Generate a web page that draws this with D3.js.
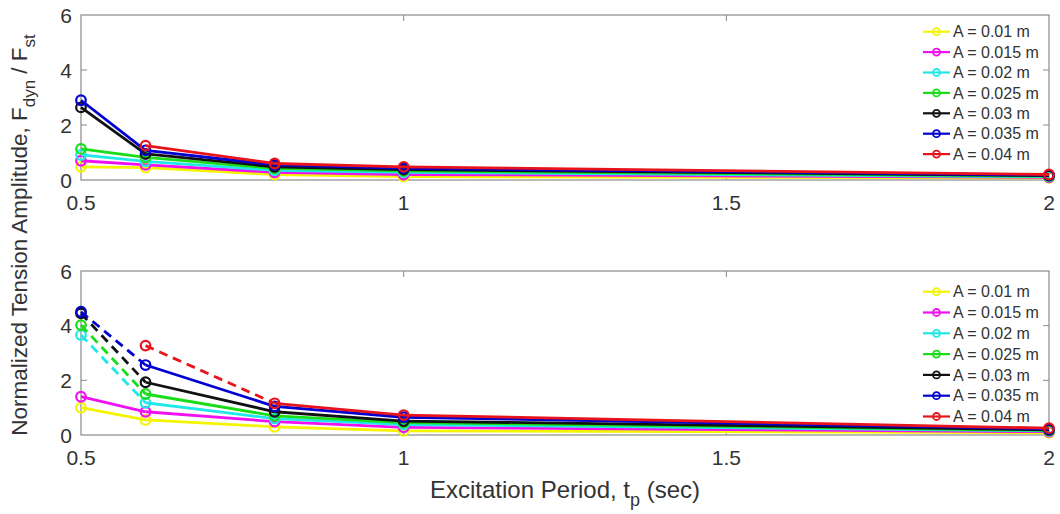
<!DOCTYPE html>
<html lang="en">
<head>
<meta charset="UTF-8">
<title>Normalized tension amplitude</title>
<style>
    body { margin: 0; background: #fff; }
    svg { display: block; font-family: "Liberation Sans", Arial, sans-serif; }
</style>
</head>
<body>
<script src="https://cdn.jsdelivr.net/npm/d3@7/dist/d3.min.js"></script>
<script>
    // periods on the x axis (sec)
    const periods = [0.5, 0.6, 0.8, 1, 2]
    const amplitudes = ['A = 0.01 m', 'A = 0.015 m', 'A = 0.02 m', 'A = 0.025 m', 'A = 0.03 m', 'A = 0.035 m', 'A = 0.04 m']
    const colors = ['#f4f400', '#f010f0', '#20e8e8', '#18dd18', '#111111', '#0000d0', '#e8141c']

    // top panel, null = no point
    const topValues = [
        [0.48, 0.45, 0.20, 0.12, 0.08],
        [0.70, 0.55, 0.28, 0.20, 0.10],
        [0.91, 0.68, 0.35, 0.28, 0.12],
        [1.13, 0.82, 0.42, 0.33, 0.14],
        [2.64, 0.95, 0.48, 0.38, 0.16],
        [2.90, 1.08, 0.55, 0.42, 0.18],
        [null, 1.25, 0.60, 0.48, 0.20]
    ]

    // bottom panel
    const bottomValues = [
        [1.00, 0.55, 0.30, 0.15, 0.08],
        [1.40, 0.85, 0.49, 0.28, 0.12],
        [3.66, 1.18, 0.60, 0.38, 0.15],
        [4.02, 1.50, 0.70, 0.45, 0.17],
        [4.45, 1.93, 0.85, 0.51, 0.19],
        [4.51, 2.56, 1.05, 0.65, 0.22],
        [null, 3.27, 1.16, 0.73, 0.25]
    ]
    // index of the segment that is dashed in the bottom panel (-1 = none)
    const bottomDashedSeg = [-1, -1, 0, 0, 0, 0, 1]

    const xTicks = [0.5, 1, 1.5, 2]
    const yTicks = [0, 2, 4, 6]

    const width = 1060
    const height = 514
    const left = 81
    const right = 1049
    const axisColor = '#8a8a8a'
    const textColor = '#333'

    const svg = d3.select('body').append('svg')
        .attr('width', width)
        .attr('height', height)

    const x = d3.scaleLinear().domain([0.5, 2]).range([left, right])

    drawPanel(15, 180, topValues, amplitudes.map(() => -1), 16.7, 20.4)
    drawPanel(271, 435, bottomValues, bottomDashedSeg, 20.7, 20.8)
    drawLabels()

    function drawPanel(top, bottom, values, dashedSeg, legTop, rowH) {
        const y = d3.scaleLinear().domain([0, 6]).range([bottom, top])
        const g = svg.append('g')

        // box
        g.append('rect')
            .attr('x', left).attr('y', top)
            .attr('width', right - left).attr('height', bottom - top)
            .attr('fill', 'none')
            .attr('stroke', axisColor)
            .attr('stroke-width', 1.2)

        // inward ticks on all four sides
        const tl = 6
        xTicks.slice(1, -1).forEach(t => {
            g.append('line').attr('x1', x(t)).attr('x2', x(t)).attr('y1', bottom).attr('y2', bottom - tl).attr('stroke', axisColor)
            g.append('line').attr('x1', x(t)).attr('x2', x(t)).attr('y1', top).attr('y2', top + tl).attr('stroke', axisColor)
        })
        yTicks.slice(1, -1).forEach(t => {
            g.append('line').attr('x1', left).attr('x2', left + tl).attr('y1', y(t)).attr('y2', y(t)).attr('stroke', axisColor)
            g.append('line').attr('x1', right).attr('x2', right - tl).attr('y1', y(t)).attr('y2', y(t)).attr('stroke', axisColor)
        })

        // tick labels
        g.selectAll('.xt').data(xTicks).enter().append('text')
            .attr('x', d => x(d))
            .attr('y', bottom + 30)
            .attr('text-anchor', 'middle')
            .attr('font-size', 21)
            .attr('fill', textColor)
            .text(d => d)
        g.selectAll('.yt').data(yTicks).enter().append('text')
            .attr('x', left - 9)
            .attr('y', d => y(d))
            .attr('dy', '0.36em')
            .attr('text-anchor', 'end')
            .attr('font-size', 21)
            .attr('fill', textColor)
            .text(d => d)

        // series: every segment drawn on its own so one can be dashed
        const line = d3.line().x(d => x(d.t)).y(d => y(d.v))
        values.forEach((vals, i) => {
            const pts = periods.map((t, k) => ({ t, v: vals[k], k })).filter(d => d.v !== null)
            const s = g.append('g')
            d3.pairs(pts).forEach(([a, b]) => {
                s.append('path')
                    .attr('d', line([a, b]))
                    .attr('fill', 'none')
                    .attr('stroke', colors[i])
                    .attr('stroke-width', 2.8)
                    .attr('stroke-dasharray', a.k === dashedSeg[i] ? '9,6' : null)
            })
            s.selectAll('circle').data(pts).enter().append('circle')
                .attr('cx', d => x(d.t))
                .attr('cy', d => y(d.v))
                .attr('r', 4.8)
                .attr('fill', 'none')
                .attr('stroke', colors[i])
                .attr('stroke-width', 2.2)
        })

        // legend
        const lg = g.append('g')
        amplitudes.forEach((name, i) => {
            const cy = top + legTop + i * rowH
            lg.append('line').attr('x1', 923).attr('x2', 950).attr('y1', cy).attr('y2', cy)
                .attr('stroke', colors[i]).attr('stroke-width', 2.2)
            lg.append('circle').attr('cx', 936.5).attr('cy', cy).attr('r', 3.5)
                .attr('fill', 'none').attr('stroke', colors[i]).attr('stroke-width', 1.8)
            lg.append('text').attr('x', 953).attr('y', cy).attr('dy', '0.36em')
                .attr('font-size', 16).attr('fill', textColor)
                .text(name)
        })
    }

    function drawLabels() {
        const xl = svg.append('text')
            .attr('x', (left + right) / 2)
            .attr('y', 498)
            .attr('text-anchor', 'middle')
            .attr('font-size', 24)
            .attr('fill', textColor)
        xl.append('tspan').text('Excitation Period, t')
        xl.append('tspan').attr('font-size', 18).attr('dy', 8).text('p')
        xl.append('tspan').attr('dy', -8).text(' (sec)')

        const yl = svg.append('text')
            .attr('transform', 'translate(27,235) rotate(-90)')
            .attr('text-anchor', 'middle')
            .attr('font-size', 22.5)
            .attr('fill', textColor)
        yl.append('tspan').text('Normalized Tension Amplitude, F')
        yl.append('tspan').attr('font-size', 17).attr('dy', 8).text('dyn')
        yl.append('tspan').attr('dy', -8).text(' / F')
        yl.append('tspan').attr('font-size', 17).attr('dy', 8).text('st')
    }
</script>
</body>
</html>
